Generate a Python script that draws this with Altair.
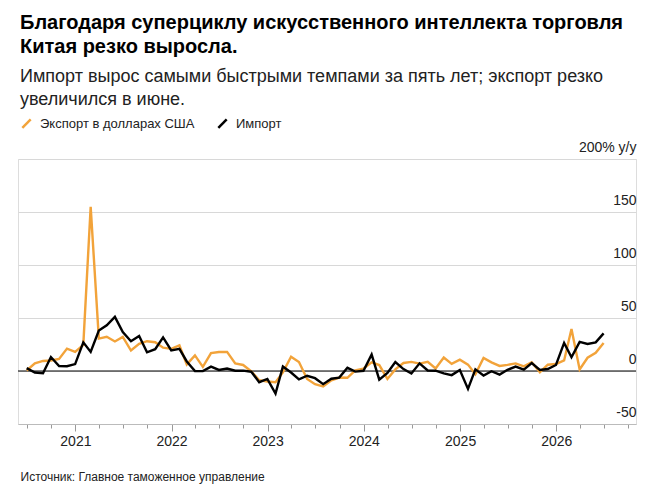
import altair as alt
import pandas as pd

# ---- data (monthly, y/y % change, Jun 2020 .. Jun 2026) ----
start_month = "2020-06"
n_months = 73

exports = [
    0.5, 7.2, 9.5, 9.9, 11.4, 21.1, 18.1,                               # 2020 Jun-Dec
    24.7, 154.9, 30.6, 32.3, 27.9, 32.2, 19.3, 25.6, 28.1, 27.1, 22.0, 20.9,  # 2021
    24.1, 6.2, 14.7, 3.9, 16.9, 17.9, 18.0, 7.1, 5.7, -0.3, -8.7, -9.9,       # 2022
    -10.5, -1.3, 13.5, 8.5, -7.5, -12.4, -14.5, -8.8, -6.2, -6.4, 0.5, 2.3,   # 2023
    8.1, 5.6, -7.5, 1.5, 7.6, 8.6, 7.0, 8.7, 2.4, 12.7, 6.7, 10.7,            # 2024
    6.0, -3.0, 12.4, 8.1, 4.8, 5.8, 7.2, 4.4, 8.3, -1.1, 5.9, 6.6,            # 2025
    10.0, 39.6, 1.5, 12.5, 17.2, 26.5,                                        # 2026 Jan-Jun
]
imports = [
    2.7, -1.4, -2.1, 13.2, 4.7, 4.5, 6.5,
    27.0, 18.0, 38.1, 43.1, 51.1, 36.7, 28.1, 33.1, 17.6, 20.6, 31.7, 19.5,
    20.9, 9.0, -0.1, 0.0, 4.1, 1.0, 2.3, 0.3, 0.3, -0.7, -10.6, -7.5,
    -21.3, 4.2, -1.4, -7.9, -4.5, -6.8, -12.4, -7.3, -6.2, 3.0, -0.6, 0.2,
    15.5, -8.2, -1.9, 8.4, 1.8, -2.3, 7.2, 0.5, 0.3, -2.3, -3.9, 1.0,
    -16.9, 1.5, -4.3, -0.2, -3.4, 1.1, 4.1, 1.3, 7.4, 1.0, 1.9, 5.7,
    26.5, 13.0, 27.5, 25.5, 27.0, 35.5,
]
series_names = ["Экспорт в долларах США", "Импорт"]
series_colors = ["#f2a33a", "#000000"]
y_ticks = [-50, 0, 50, 100, 150, 200]
years = [2021, 2022, 2023, 2024, 2025, 2026]

title_lines = ["Благодаря суперциклу искусственного интеллекта торговля",
               "Китая резко выросла."]
subtitle_lines = ["Импорт вырос самыми быстрыми темпами за пять лет; экспорт резко",
                  "увеличился в июне."]
source_text = "Источник: Главное таможенное управление"

NARROW = "Liberation Sans Narrow, Arial Narrow, Liberation Sans, Arial, sans-serif"
SANS = "Liberation Sans, Arial, Helvetica, sans-serif"

# ---- table ----
dates = pd.period_range(start_month, periods=n_months, freq="M").to_timestamp(how="end").normalize()
date_str = [d.strftime("%Y-%m-%d") for d in dates]
df = pd.concat([
    pd.DataFrame({"date": date_str, "value": exports, "series": series_names[0]}),
    pd.DataFrame({"date": date_str, "value": imports, "series": series_names[1]}),
])

quarter_ticks = [alt.DateTime(year=y, month=m, date=1, utc=True)
                 for y in range(2020, 2027) for m in (1, 4, 7, 10)
                 if (y, m) >= (2020, 7)]

x_scale = alt.Scale(type="utc",
                    domain=[alt.DateTime(year=2020, month=5, date=28, utc=True),
                            alt.DateTime(year=2026, month=10, date=31, utc=True)])
y_scale = alt.Scale(domain=[-50, 200], nice=False, zero=False)

x_axis = alt.Axis(
    values=quarter_ticks,
    labelExpr="utcmonth(datum.value) == 0 ? utcyear(datum.value) + '' : ''",
    tickSize={"condition": {"test": "utcmonth(datum.value) == 0", "value": 7}, "value": 4},
    tickColor="#999999", domainColor="#bbbbbb", grid=False,
    labelFont=SANS, labelFontSize=14, labelColor="#222222", labelPadding=3,
    labelFlush=False, labelOverlap=False,
    title=source_text, titleFont=NARROW, titleFontSize=12, titleFontWeight="normal",
    titleColor="#222222", titleAnchor="start", titleAlign="left", titleX=2, titleY=56,
    titleBaseline="alphabetic",
)
y_axis = alt.Axis(
    orient="right", values=y_ticks, grid=True, gridColor="#d8d8d8", gridWidth=1,
    domain=False, ticks=False, labelAlign="right", labelBaseline="bottom",
    labelPadding=0, labelOffset=-5, labelFont=SANS, labelFontSize=14,
    labelColor="#222222", labelFlush=False, labelOverlap=False,
    labelExpr="datum.value == 200 ? '200% y/y' : '' + datum.value", title=None,
)

lines = alt.Chart(df).mark_line(strokeWidth=2.4, strokeJoin="miter").encode(
    x=alt.X("date:T", scale=x_scale, axis=x_axis),
    y=alt.Y("value:Q", scale=y_scale, axis=y_axis),
    color=alt.Color("series:N",
                    scale=alt.Scale(domain=series_names, range=series_colors),
                    sort=series_names,
                    legend=alt.Legend(orient="none", legendX=2, legendY=-42,
                                      direction="horizontal", title=None,
                                      symbolType="M-1,1L1,-1", symbolSize=70,
                                      symbolStrokeWidth=2.5, labelFont=NARROW,
                                      labelFontSize=13, labelColor="#222222",
                                      labelLimit=400,
                                      labelOffset=7, columnPadding=18)),
    order=alt.Order("series:N", sort="ascending"),
)

zero = alt.Chart(pd.DataFrame({"v": [0]})).mark_rule(color="#000000", strokeWidth=1).encode(
    y=alt.Y("v:Q", scale=y_scale)
)

chart = alt.layer(zero, lines).properties(
    width=618, height=265,
    autosize="none",
    padding={"left": 18, "top": 159, "right": 28, "bottom": 72},
    title=alt.TitleParams(text=title_lines, subtitle=subtitle_lines, anchor="start",
                          frame="group", font=NARROW, fontSize=20, fontWeight="bold",
                          lineHeight=24, color="#000000", subtitleFont=NARROW,
                          subtitleFontSize=18, subtitleLineHeight=23,
                          subtitleColor="#222222", subtitlePadding=11, offset=8, dx=2),
).configure_view(stroke=None).configure(background="#ffffff")

chart.save("out.html", embed_options={"renderer": "svg", "actions": False})
